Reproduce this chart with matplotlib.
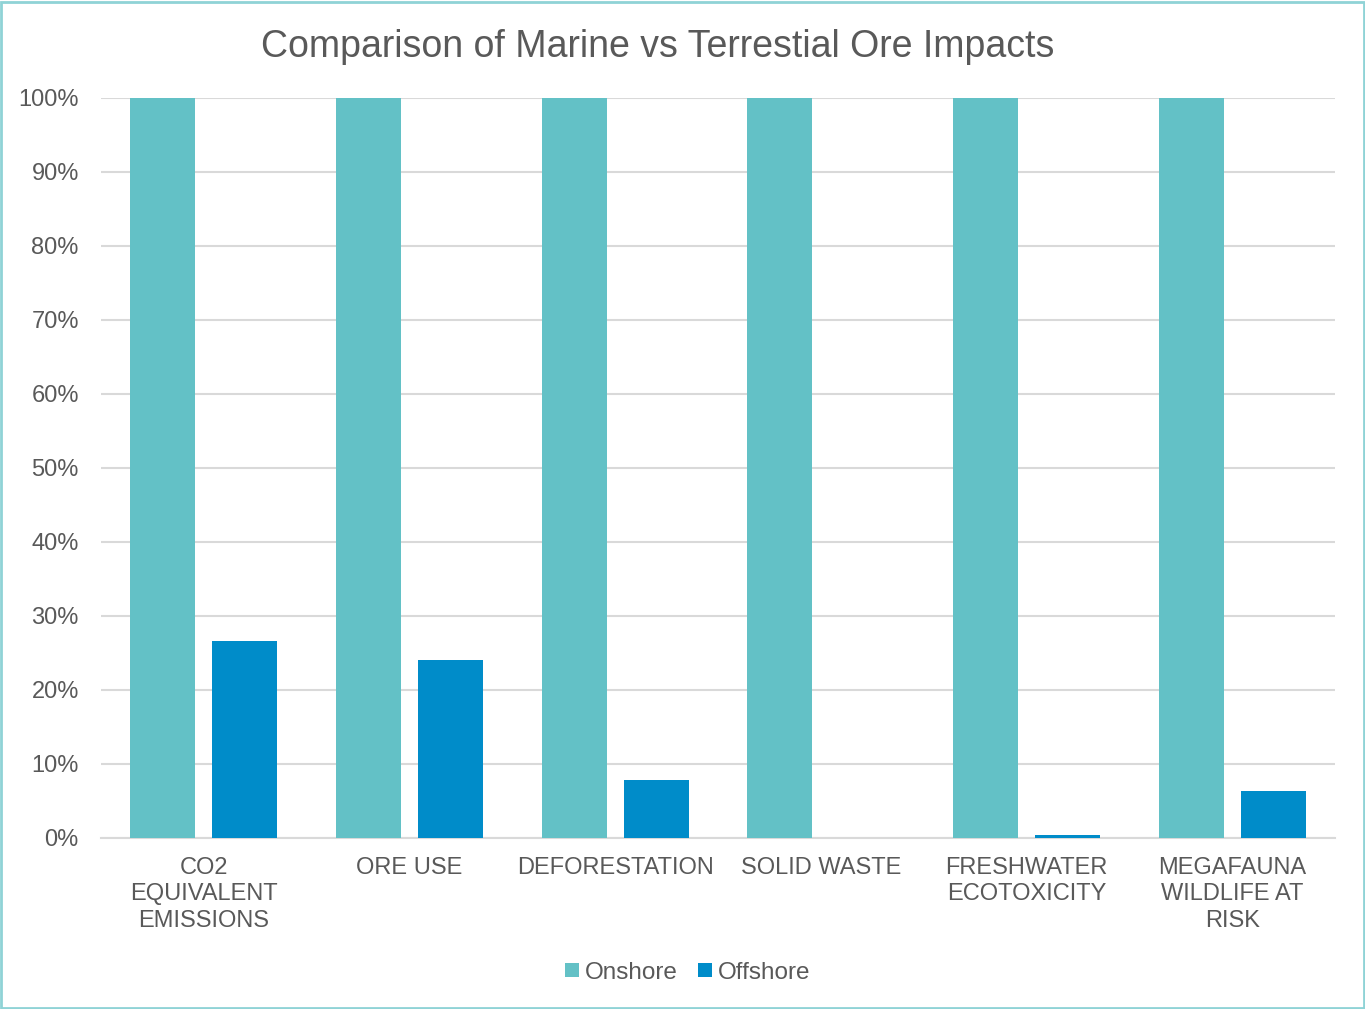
import numpy as np
import matplotlib.pyplot as plt
from matplotlib.patches import Rectangle
from matplotlib.ticker import PercentFormatter

plt.rcParams['font.family'] = ['Liberation Sans', 'DejaVu Sans']

categories = ['CO2\nEQUIVALENT\nEMISSIONS', 'ORE USE', 'DEFORESTATION',
              'SOLID WASTE', 'FRESHWATER\nECOTOXICITY', 'MEGAFAUNA\nWILDLIFE AT\nRISK']
onshore = [100, 100, 100, 100, 100, 100]
offshore = [26.6, 24.0, 7.8, 0.0, 0.36, 6.3]

grey = '#595959'
x = np.arange(len(categories))

fig = plt.figure(figsize=(13.65, 10.09), dpi=100)
ax = fig.add_axes([0.074, 0.1695, 0.904, 0.7334])

w = 0.316
ax.bar(x - 0.2, onshore, w, color='#63c1c6', label='Onshore', zorder=3)
ax.bar(x + 0.2, offshore, w, color='#008cc9', label='Offshore', zorder=3)

ax.set_xlim(-0.5, len(categories) - 0.5)
ax.set_ylim(0, 100)
ax.set_yticks(np.arange(0, 101, 10))
ax.yaxis.set_major_formatter(PercentFormatter(decimals=0))
ax.set_xticks(x)
ax.set_xticklabels(categories, linespacing=1.24)
ax.tick_params(axis='both', length=0, labelsize=17, colors=grey)
ax.tick_params(axis='x', pad=14)
ax.tick_params(axis='y', pad=16)
ax.grid(axis='y', color='#d9d9d9', linewidth=1.5, zorder=0)
for s in ['top', 'right', 'left']:
    ax.spines[s].set_visible(False)
ax.spines['bottom'].set_color('#d9d9d9')
ax.spines['bottom'].set_linewidth(1.5)

fig.suptitle('Comparison of Marine vs Terrestial Ore Impacts', x=0.482, y=0.953,
             va='center', fontsize=27, color=grey)

fig.legend(loc='center', bbox_to_anchor=(0.504, 0.036), ncol=2, frameon=False,
           fontsize=17.5, labelcolor=grey, handlelength=0.55, handleheight=0.55,
           handletextpad=0.25, columnspacing=0.85)

# thin outline around the whole chart
fig.patches.append(Rectangle((0.001, 0.001), 0.998, 0.997, transform=fig.transFigure,
                             fill=False, edgecolor='#8fd3d6', linewidth=2))

fig.savefig('out.png', dpi=100)
